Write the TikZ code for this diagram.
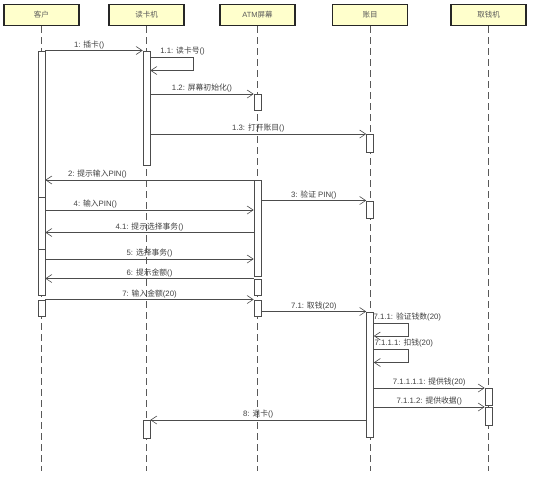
\documentclass[tikz,border=0pt]{standalone}
\usepackage{fontspec}
\setmainfont{Liberation Sans}
\newfontfamily\cjk{Noto Sans CJK SC}
\newcommand{\zh}[1]{{\cjk #1}}
\usetikzlibrary{arrows.meta, positioning, calc}
\definecolor{headFill}{RGB}{255,255,204}
\definecolor{lineGray}{gray}{0.3}
\definecolor{subGray}{gray}{0.35}

\begin{document}
\begin{tikzpicture}[x=1pt, y=-1pt, >={Straight Barb[length=6pt,width=8pt]},
    obj/.style={draw=black!85, line width=1.2pt, fill=headFill, minimum width=75pt,
        minimum height=21pt, inner sep=0pt, font=\fontsize{7.5}{8}\selectfont, text=subGray},
    life/.style={draw=subGray, line width=0.7pt, dash pattern=on 7pt off 4pt},
    actbar/.style={draw=lineGray, fill=white, line width=0.6pt, minimum width=7pt,
        inner sep=0pt, anchor=north},
    msg/.style={->, draw=lineGray, line width=0.6pt},
    lbl/.style={font=\fontsize{7.8}{8}\selectfont, text=black!75, inner sep=1.5pt, above}]
    \useasboundingbox (0,0) rectangle (533,485);
    \coordinate (bottom) at (0,471);

    % objects
    \node[obj] (kehu) at (41.5,15) {\zh{客户}};
    \node[obj] (dkj)  at (146.5,15) {\zh{读卡机}};
    \node[obj] (atm)  at (257.5,15) {ATM\zh{屏幕}};
    \node[obj] (zm)   at (370,15) {\zh{账目}};
    \node[obj] (qqj)  at (488.5,15) {\zh{取钱机}};
    \foreach \o in {kehu, dkj, atm, zm, qqj}
        \draw[life] (\o.south) -- (\o.south |- bottom);

    % activation bars
    \node[actbar, minimum height=146.5pt] (c1) at (41.5,50.5) {};
    \node[actbar, minimum height=52pt]    (c2) at (41.5,197) {};
    \node[actbar, minimum height=46pt]    (c3) at (41.5,249) {};
    \node[actbar, minimum height=16.5pt]  (c4) at (41.5,299.5) {};
    \node[actbar, minimum height=114.5pt] (d1) at (146.5,50.5) {};
    \node[actbar, minimum height=17.5pt]  (d2) at (146.5,420) {};
    \node[actbar, minimum height=16pt]    (a1) at (257.5,94) {};
    \node[actbar, minimum height=96pt]    (a2) at (257.5,180) {};
    \node[actbar, minimum height=16.5pt]  (a3) at (257.5,278.5) {};
    \node[actbar, minimum height=16.5pt]  (a4) at (257.5,299.5) {};
    \node[actbar, minimum height=17.5pt]  (z1) at (370,134) {};
    \node[actbar, minimum height=17.5pt]  (z2) at (370,200.5) {};
    \node[actbar, minimum height=125.5pt] (z3) at (370,311.5) {};
    \node[actbar, minimum height=17pt]    (q1) at (488.5,388) {};
    \node[actbar, minimum height=18pt]    (q2) at (488.5,407) {};

    % messages
    \draw[msg] (c1.north east) -- (d1.north west) node[lbl, pos=0.45] {1: \zh{插卡}()};
    \draw[msg] (d1.east |- 0,57) -- ++(43,0) node[lbl, pos=0.75] {1.1: \zh{读卡号}()}
        |- (d1.east |- 0,70.5);
    \draw[msg] (d1.east |- a1.north) -- (a1.north west) node[lbl, midway] {1.2: \zh{屏幕初始化}()};
    \draw[msg] (d1.east |- z1.north) -- (z1.north west) node[lbl, midway] {1.3: \zh{打开账目}()};
    \draw[msg] (a2.north west) -- (a2.north west -| c1.east) node[lbl, pos=0.75] {2: \zh{提示输入}PIN()};
    \draw[msg] (a2.east |- z2.north) -- (z2.north west) node[lbl, midway] {3: \zh{验证} PIN()};
    \draw[msg] (c2.east |- 0,210) -- (a2.west |- 0,210) node[lbl, pos=0.24] {4: \zh{输入}PIN()};
    \draw[msg] (a2.west |- 0,232.5) -- (c2.east |- 0,232.5) node[lbl, midway] {4.1: \zh{提示选择事务}()};
    \draw[msg] (c3.east |- 0,259) -- (a2.west |- 0,259) node[lbl, midway] {5: \zh{选择事务}()};
    \draw[msg] (a3.north west) -- (a3.north west -| c3.east) node[lbl, midway] {6: \zh{提示金额}()};
    \draw[msg] (c4.north east) -- (a4.north west) node[lbl, midway] {7: \zh{输入金额}(20)};
    \draw[msg] (a4.east |- z3.north) -- (z3.north west) node[lbl, midway] {7.1: \zh{取钱}(20)};
    \draw[msg] (z3.east |- 0,323) node[lbl, anchor=south west, xshift=-2pt] {7.1.1: \zh{验证钱数}(20)}
        -- ++(34,0) |- (z3.east |- 0,336);
    \draw[msg] (z3.east |- 0,349) node[lbl, anchor=south west, xshift=-1pt] {7.1.1.1: \zh{扣钱}(20)}
        -- ++(34,0) |- (z3.east |- 0,362.5);
    \draw[msg] (z3.east |- q1.north) -- (q1.north west) node[lbl, midway] {7.1.1.1.1: \zh{提供钱}(20)};
    \draw[msg] (z3.east |- q2.north) -- (q2.north west) node[lbl, midway] {7.1.1.2: \zh{提供收据}()};
    \draw[msg] (z3.west |- d2.north) -- (d2.north east) node[lbl, midway] {8: \zh{退卡}()};
\end{tikzpicture}
\end{document}
